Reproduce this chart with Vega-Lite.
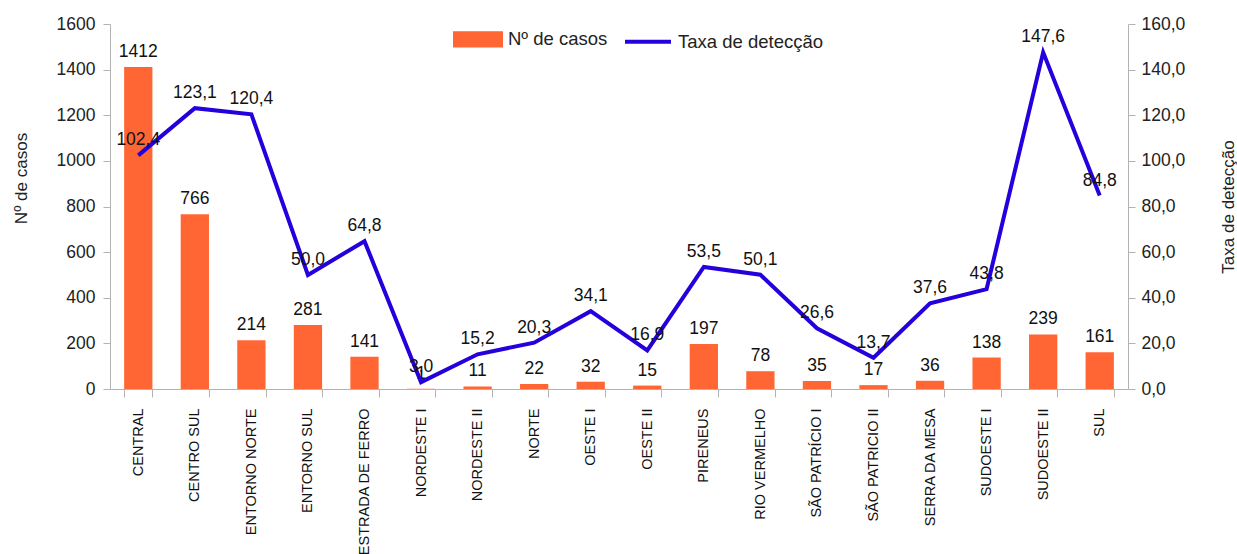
{
  "$schema": "https://vega.github.io/schema/vega-lite/v6.json",
  "width": 1018,
  "height": 365,
  "autosize": {"type": "none"},
  "padding": {"left": 110, "top": 24, "right": 109, "bottom": 165},
  "background": "#ffffff",
  "config": {
    "locale": {"number": {"decimal": ",", "thousands": ".", "grouping": [3], "currency": ["R$", ""]}},
    "font": "Liberation Sans",
    "view": {"stroke": null},
    "axis": {
      "domainColor": "#b3b3b3",
      "tickColor": "#b3b3b3",
      "grid": false,
      "labelColor": "#222222",
      "titleColor": "#222222",
      "labelFont": "Liberation Sans",
      "titleFont": "Liberation Sans",
      "titleFontWeight": "normal"
    }
  },
  "data": {
    "values": [
      {"regiao": "CENTRAL", "casos": 1412, "taxa": 102.4},
      {"regiao": "CENTRO SUL", "casos": 766, "taxa": 123.1},
      {"regiao": "ENTORNO NORTE", "casos": 214, "taxa": 120.4},
      {"regiao": "ENTORNO SUL", "casos": 281, "taxa": 50.0},
      {"regiao": "ESTRADA DE FERRO", "casos": 141, "taxa": 64.8},
      {"regiao": "NORDESTE I", "casos": 1, "taxa": 3.0},
      {"regiao": "NORDESTE II", "casos": 11, "taxa": 15.2},
      {"regiao": "NORTE", "casos": 22, "taxa": 20.3},
      {"regiao": "OESTE I", "casos": 32, "taxa": 34.1},
      {"regiao": "OESTE II", "casos": 15, "taxa": 16.9},
      {"regiao": "PIRENEUS", "casos": 197, "taxa": 53.5},
      {"regiao": "RIO VERMELHO", "casos": 78, "taxa": 50.1},
      {"regiao": "SÃO PATRÍCIO I", "casos": 35, "taxa": 26.6},
      {"regiao": "SÃO PATRICIO II", "casos": 17, "taxa": 13.7},
      {"regiao": "SERRA DA MESA", "casos": 36, "taxa": 37.6},
      {"regiao": "SUDOESTE I", "casos": 138, "taxa": 43.8},
      {"regiao": "SUDOESTE II", "casos": 239, "taxa": 147.6},
      {"regiao": "SUL", "casos": 161, "taxa": 84.8}
    ]
  },
  "encoding": {
    "x": {
      "field": "regiao",
      "type": "nominal",
      "sort": null,
      "scale": {"paddingInner": 0.5, "paddingOuter": 0.25},
      "axis": {
        "title": null,
        "labelAngle": -90,
        "labelAlign": "right",
        "labelBaseline": "middle",
        "tickBand": "extent",
        "tickSize": 8,
        "labelPadding": 11,
        "labelFontSize": 14.5,
        "labelColor": "#111111",
        "labelLimit": 300
      }
    }
  },
  "layer": [
    {
      "layer": [
        {
          "mark": {"type": "bar"},
          "encoding": {
            "y": {
              "field": "casos",
              "type": "quantitative",
              "scale": {"domain": [0, 1600], "nice": false},
              "axis": {
                "orient": "left",
                "title": "Nº de casos",
                "values": [0, 200, 400, 600, 800, 1000, 1200, 1400, 1600],
                "format": "d",
                "tickSize": 7,
                "labelPadding": 8,
                "labelFontSize": 17.5,
                "titleFontSize": 17,
                "titlePadding": 26,
                "titleY": 154
              }
            },
            "color": {
              "datum": "Nº de casos",
              "type": "nominal",
              "scale": {"domain": ["Nº de casos", "Taxa de detecção"], "range": ["#ff6633", "#2300dc"]},
              "legend": {
                "title": null,
                "orient": "none",
                "legendX": 343,
                "legendY": -10,
                "direction": "horizontal",
                "symbolSize": 2116,
                "symbolStrokeWidth": 4,
                "labelFontSize": 18.5,
                "labelColor": "#222222",
                "labelOffset": 5,
                "columnPadding": 9,
                "labelLimit": 300,
                "encode": {
                  "symbols": {
                    "update": {
                      "shape": {"signal": "datum.value === 'Nº de casos' ? 'M-1,-0.27H1V0.27H-1Z' : 'stroke'"},
                      "fill": {"signal": "datum.value === 'Nº de casos' ? '#ff6633' : 'transparent'"},
                      "stroke": {"signal": "datum.value === 'Nº de casos' ? 'transparent' : '#2300dc'"},
                      "strokeWidth": {"value": 4},
                      "opacity": {"value": 1}
                    }
                  }
                }
              }
            }
          }
        },
        {
          "mark": {"type": "text", "baseline": "alphabetic", "dy": -10, "fontSize": 17.5, "color": "#111111"},
          "encoding": {
            "y": {"field": "casos", "type": "quantitative"},
            "text": {"field": "casos", "type": "quantitative", "format": "d"}
          }
        }
      ]
    },
    {
      "layer": [
        {
          "mark": {"type": "line", "strokeWidth": 4},
          "encoding": {
            "y": {
              "field": "taxa",
              "type": "quantitative",
              "scale": {"domain": [0, 160], "nice": false},
              "axis": {
                "orient": "right",
                "title": "Taxa de detecção",
                "values": [0, 20, 40, 60, 80, 100, 120, 140, 160],
                "format": ".1f",
                "tickSize": 7,
                "labelPadding": 6,
                "labelFontSize": 17.5,
                "titleFontSize": 17,
                "titleAngle": -90,
                "titleBaseline": "top",
                "titlePadding": 36
              }
            },
            "color": {"datum": "Taxa de detecção", "type": "nominal"}
          }
        },
        {
          "mark": {"type": "text", "baseline": "alphabetic", "dy": -10, "fontSize": 17.5, "color": "#111111"},
          "encoding": {
            "y": {"field": "taxa", "type": "quantitative"},
            "text": {"field": "taxa", "type": "quantitative", "format": ".1f"}
          }
        }
      ]
    }
  ],
  "resolve": {"scale": {"y": "independent"}}
}
